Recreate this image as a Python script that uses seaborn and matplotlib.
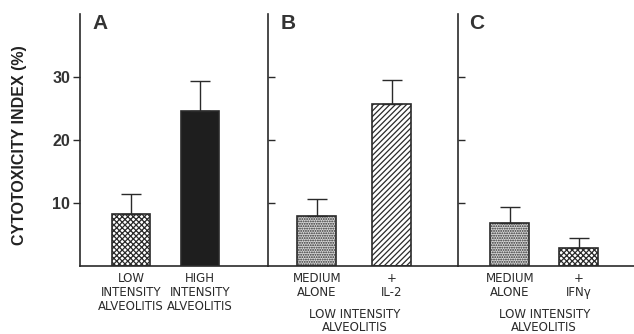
import numpy as np
import pandas as pd
import matplotlib
matplotlib.use("Agg")
import matplotlib.pyplot as plt
import seaborn as sns

# data
panel_letters = ["A", "B", "C"]
labels_a = ["LOW\nINTENSITY\nALVEOLITIS", "HIGH\nINTENSITY\nALVEOLITIS"]
labels_b = ["MEDIUM\nALONE", "+\nIL-2"]
labels_c = ["MEDIUM\nALONE", "+\nIFNγ"]
values_a = [8.2, 24.6]
values_b = [7.9, 25.7]
values_c = [6.8, 2.9]
errors_a = [3.3, 4.8]
errors_b = [2.8, 3.8]
errors_c = [2.5, 1.6]
group_labels = [None, "LOW INTENSITY\nALVEOLITIS", "LOW INTENSITY\nALVEOLITIS"]
y_ticks = [10, 20, 30]

ink = "#2a2a2a"
sns.set_style("white")
plt.rcParams["font.family"] = ["DejaVu Sans"]
plt.rcParams["hatch.linewidth"] = 0.9

# styles: (facecolor, hatch)
styles = [
    [("white", "xxxxxx"), ("#1e1e1e", None)],
    [("#d9d9d9", "......."), ("white", "//////")],
    [("#d9d9d9", "......."), ("white", "xxxxxx")],
]
xlims = [(-0.74, 1.99), (-0.65, 1.88), (-0.75, 1.80)]
widths = [0.56, 0.52, 0.56]

fig, axes = plt.subplots(1, 3, figsize=(6.34, 3.34), dpi=100, sharey=True,
                         gridspec_kw={"width_ratios": [188, 190, 176], "wspace": 0})
fig.subplots_adjust(left=80 / 634, right=1.0, bottom=68 / 334, top=320 / 334)

panels = [(labels_a, values_a, errors_a), (labels_b, values_b, errors_b),
          (labels_c, values_c, errors_c)]

for i, (ax, (labs, vals, errs)) in enumerate(zip(axes, panels)):
    df = pd.DataFrame({"cond": labs, "val": vals})
    sns.barplot(data=df, x="cond", y="val", ax=ax, width=widths[i],
                color="white", edgecolor=ink, linewidth=1.2, errorbar=None)
    for patch, (fc, h), e in zip(ax.patches, styles[i], errs):
        patch.set_facecolor(fc)
        if h:
            patch.set_hatch(h)
        cx = patch.get_x() + patch.get_width() / 2
        top = patch.get_height()
        ax.errorbar([cx], [top], yerr=[[0], [e]], fmt="none", ecolor=ink,
                    elinewidth=1.0, capsize=7.5, capthick=1.0, zorder=1)
    ax.set_xlim(*xlims[i])
    ax.set_ylim(0, 40)
    ax.set_xlabel("")
    ax.set_ylabel("")
    for side in ["top", "right"]:
        ax.spines[side].set_visible(False)
    ax.spines["left"].set_color(ink)
    ax.spines["bottom"].set_color(ink)
    ax.spines["left"].set_linewidth(1.2)
    ax.spines["bottom"].set_linewidth(1.2)
    ax.set_yticks(y_ticks)
    ax.tick_params(axis="x", length=0, pad=4, labelsize=8.5, labelcolor=ink)
    for t in ax.get_xticklabels():
        t.set_linespacing(1.1)
    if i == 0:
        ax.tick_params(axis="y", direction="out", length=5, width=1.0, color=ink,
                       pad=2, left=True)
        for t in ax.get_yticklabels():
            t.set_fontfamily("Liberation Sans")
            t.set_fontweight("bold")
            t.set_fontsize(11.5)
            t.set_color("#333333")
    else:
        ax.tick_params(axis="y", direction="in", length=5, width=1.0, color=ink,
                       left=True, labelleft=False)
    ax.text(12 / 188, 1.0, panel_letters[i], transform=ax.transAxes,
            fontsize=15, fontweight="bold", family="Liberation Sans",
            color="#333333", va="top", ha="left")
    if group_labels[i]:
        ax.text(0.5, -0.168, group_labels[i],
                transform=ax.get_xaxis_transform(), ha="center", va="top",
                fontsize=8.5, color=ink, linespacing=1.0)

axes[0].set_ylabel("CYTOTOXICITY INDEX (%)", fontsize=11.5, fontweight="bold",
                   family="Liberation Sans", color="#222222")
axes[0].yaxis.set_label_coords(-(80 - 27) / 188, 0.48)

fig.savefig("out.png", dpi=100)
